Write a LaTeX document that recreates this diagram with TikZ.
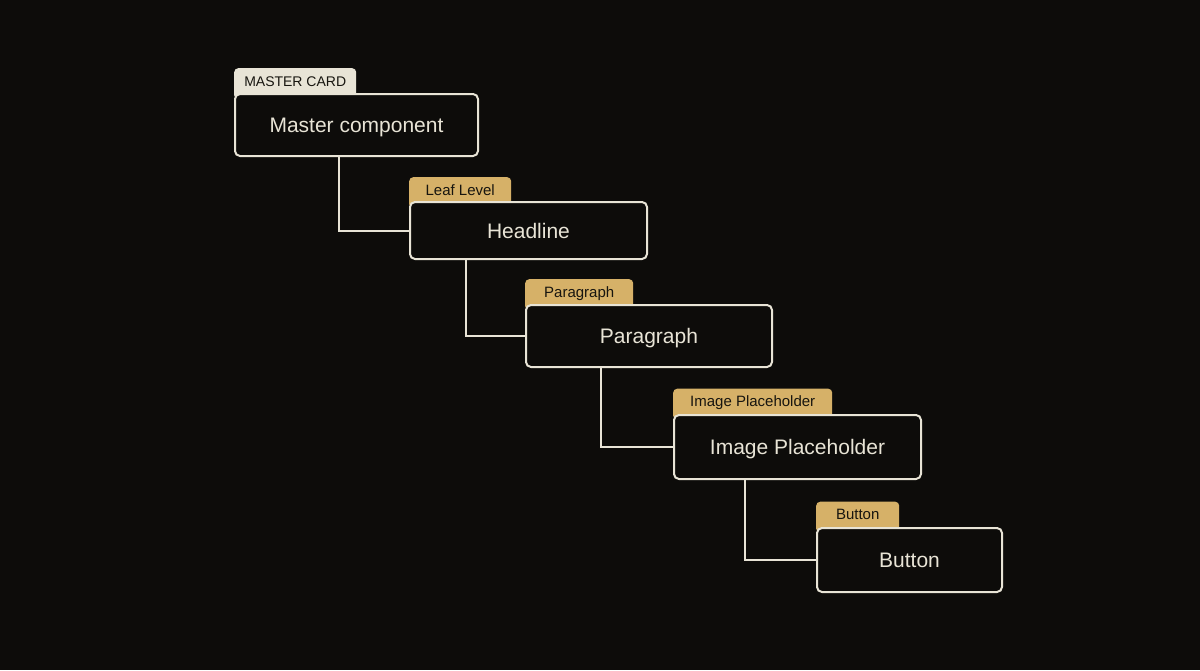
\documentclass[tikz,border=0pt]{standalone}
\usepackage{fontspec}
\setmainfont{Liberation Sans}
\usetikzlibrary{backgrounds}
\definecolor{bgdark}{HTML}{0D0C0A}
\definecolor{cream}{HTML}{E8E4D6}
\definecolor{gold}{HTML}{D6B168}
\definecolor{ink}{HTML}{17150F}
\tikzset{
    cardbox/.style={draw=cream, line width=2pt, fill=bgdark, rounded corners=5pt,
        text=cream, font=\fontsize{21}{25}\selectfont, inner sep=0pt,
        text height=15pt, text depth=0pt},
    cardtag/.style={fill=gold, rounded corners=4pt, text=ink, inner sep=0pt,
        font=\fontsize{15}{18}\selectfont, anchor=north west,
        text height=17.8pt, text depth=13.2pt},
    mastertag/.style={cardtag, fill=cream, font=\fontsize{14}{17}\selectfont},
    link/.style={draw=cream, line width=2pt}
}
\begin{document}
\begin{tikzpicture}[x=1pt, y=-1pt]
    \useasboundingbox (0, 0) rectangle (1200, 670);
        % cards
        \node[cardbox, minimum width=243pt, minimum height=62pt] (master) at (356.5, 125){Master component};
        \node[cardbox, minimum width=237pt, minimum height=57pt] (headline) at (528.5, 230.5){Headline};
        \node[cardbox, minimum width=246pt, minimum height=62pt] (paragraph) at (649, 336){Paragraph};
        \node[cardbox, minimum width=247pt, minimum height=64pt] (image) at (797.5, 447){Image Placeholder};
        \node[cardbox, minimum width=185pt, minimum height=64pt] (button) at (909.5, 560){Button};
    \begin{scope}[on background layer]
        \fill[bgdark] (0, 0) rectangle (1200, 670);
        % tags
        \node[mastertag, minimum width=122pt] (mastertagname) at (234, 68){MASTER CARD};
        \node[cardtag, minimum width=102pt] (headlinetag) at (409, 177){Leaf Level};
        \node[cardtag, minimum width=108pt] (paragraphtag) at (525, 279){Paragraph};
        \node[cardtag, minimum width=159pt] (imagetag) at (673, 388.5){Image Placeholder};
        \node[cardtag, minimum width=83pt] (buttontag) at (816, 501.5){Button};
    \end{scope}
        % links
        \draw[link] ([xshift=-17.5pt]master.south) |- (headline.west);
        \draw[link] ([xshift=-62.5pt]headline.south) |- (paragraph.west);
        \draw[link] ([xshift=-48pt]paragraph.south) |- (image.west);
        \draw[link] ([xshift=-52.5pt]image.south) |- (button.west);
\end{tikzpicture}
\end{document}
